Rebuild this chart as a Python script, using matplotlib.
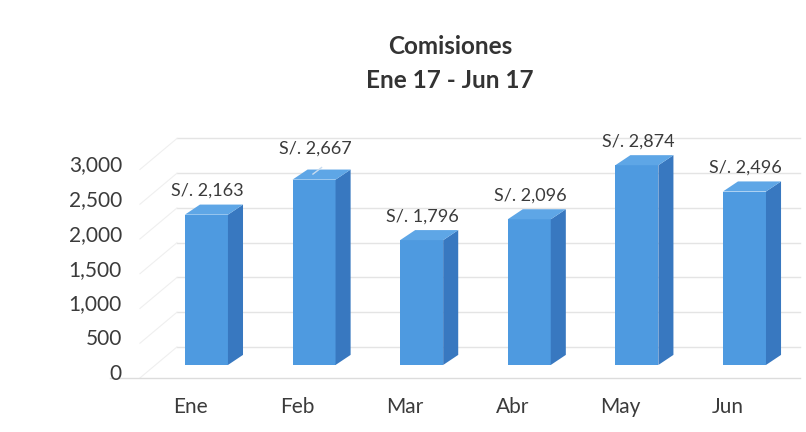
import numpy as np
import matplotlib.pyplot as plt

plt.rcParams["font.family"] = ["Lato", "DejaVu Sans"]

# Comisiones mensuales, enero a junio 2017
meses = ["Ene", "Feb", "Mar", "Abr", "May", "Jun"]
comisiones = [2163, 2667, 1796, 2096, 2874, 2496]
y_ticks = [0, 500, 1000, 1500, 2000, 2500, 3000]
y_tick_labels = ["0", "500", "1,000", "1,500", "2,000", "2,500", "3,000"]

# faux 3D geometry (data units)
bar_w = 0.40       # front face width
bar_shift = 0.153  # bars sit a bit right of the category label
dx, dy = 0.14, 145  # bar depth
wall_dy = 259       # back wall offset
floor_y = -187      # front edge of the floor
wall_x0, wall_x1 = -0.121, 5.67
side_x0 = -0.465

front_c = "#4e9ae0"
side_c = "#3878c0"
top_c = "#5ea6e6"
grid_c = "#e4e4e4"
text_c = "#3b3b3b"

fig = plt.figure(figsize=(8.06, 4.32), dpi=100)
ax = fig.add_axes([100 / 806, 42 / 432, 706 / 806, 265 / 432])
ax.set_xlim(-0.836, 5.725)
ax.set_ylim(-360, 3453)
for s in ax.spines.values():
    s.set_visible(False)

# back wall, side wall and floor lines
for v in y_ticks:
    ax.plot([wall_x0, wall_x1], [v + wall_dy, v + wall_dy], color=grid_c, lw=1, zorder=0)
    ax.plot([side_x0, wall_x0], [v + floor_y, v + wall_dy], color="#efefef", lw=0.8, zorder=0)
ax.plot([-0.74, wall_x1], [floor_y, floor_y], color="#dcdcdc", lw=1, zorder=0)

# bars: front face, right side and top
x = np.arange(len(meses))
xb = x + bar_shift
ax.bar(xb, comisiones, width=bar_w, color=front_c, edgecolor="none", zorder=3)
for xc, v in zip(xb, comisiones):
    xl, xr = xc - bar_w / 2, xc + bar_w / 2
    ax.fill([xr, xr + dx, xr + dx, xr], [0, dy, v + dy, v],
            color=side_c, lw=0, zorder=3)
    ax.fill([xl, xl + dx, xr + dx, xr], [v, v + dy, v + dy, v],
            color=top_c, lw=0, zorder=3)

# value labels
for i, (xc, v) in enumerate(zip(xb, comisiones)):
    extra = 5 if meses[i] == "Feb" else 0
    ax.annotate(f"S/. {v:,}", (xc + 0.01, v + dy), xytext=(0, 10 + extra),
                textcoords="offset points", ha="center", va="center",
                fontsize=13, color=text_c, zorder=5)
    if meses[i] == "Feb":
        ax.plot([xc - 0.01, xc + 0.07], [v + dy * 0.55, v + dy * 1.2],
                color="#c9dcef", lw=1, zorder=4)

# y axis labels, drawn at the front edge
for v, lab in zip(y_ticks, y_tick_labels):
    ax.text(-0.632, v - 130, lab, ha="right", va="center",
            fontsize=15, color=text_c, clip_on=False)
ax.set_yticks([])

ax.set_xticks(x)
ax.set_xticklabels(meses, fontsize=15, color=text_c)
ax.tick_params(axis="x", length=0, pad=5)

fig.text(450 / 806, 1 - 47 / 432, "Comisiones", ha="center", va="center",
         fontsize=17.5, fontweight="bold", color="#333333")
fig.text(450 / 806, 1 - 81 / 432, "Ene 17 - Jun 17", ha="center", va="center",
         fontsize=17.5, fontweight="bold", color="#333333")

fig.savefig("out.png", dpi=100, facecolor="white")
